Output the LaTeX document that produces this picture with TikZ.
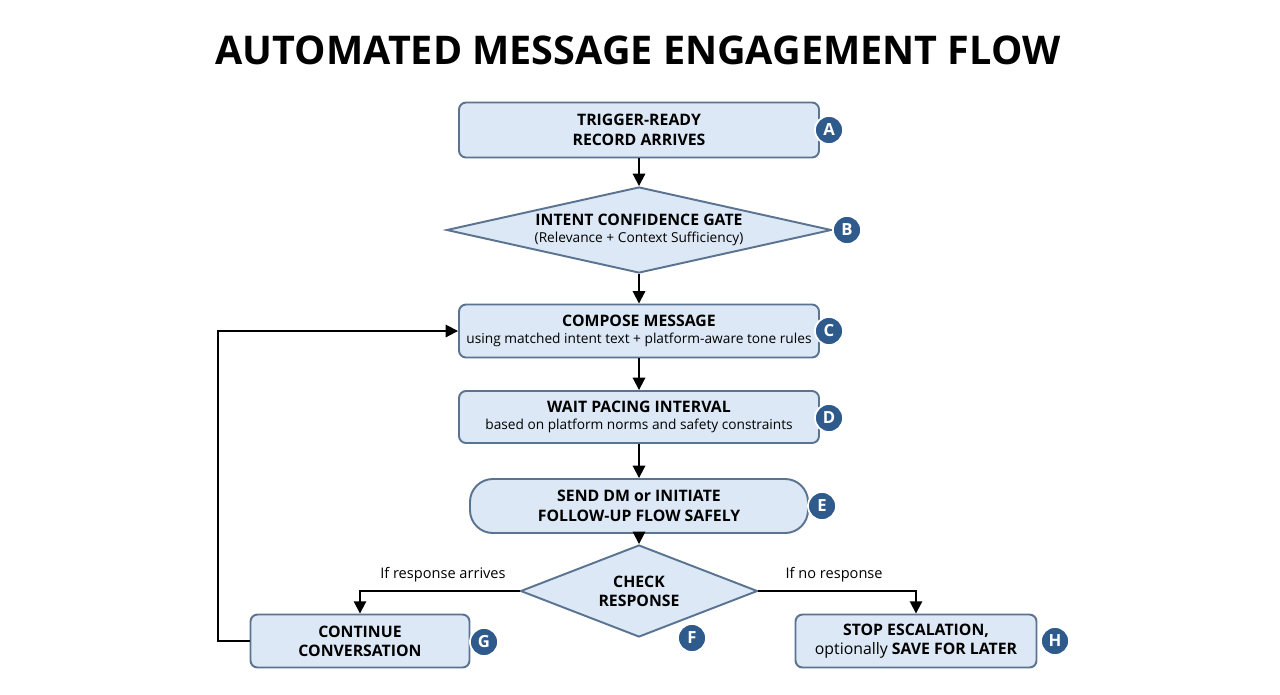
\documentclass[tikz,border=0pt]{standalone}
\usepackage{fontspec}
\setmainfont{Open Sans}
\usetikzlibrary{arrows.meta,shapes.geometric,positioning}
\definecolor{boxfill}{HTML}{DCE8F5}
\definecolor{boxline}{HTML}{5A7391}
\definecolor{badge}{HTML}{2F5A8C}
\newcommand\subtxt{\fontsize{7.8}{9.5}\selectfont}

\begin{document}
\begin{tikzpicture}[x=0.02cm,y=-0.02cm,>={Triangle[length=7pt,width=7pt]},
    line width=1.1pt,
    box/.style={draw=boxline,fill=boxfill,rounded corners=4pt,align=center,
      inner sep=0pt,font=\fontsize{9}{11}\selectfont},
    gate/.style={draw=boxline,fill=boxfill,diamond,aspect=4.4,align=center,
      inner sep=0pt,font=\fontsize{9}{11}\selectfont},
    tag/.style={circle,fill=badge,draw=white,line width=1pt,minimum size=16pt,
      inner sep=0pt,text=white,font=\fontsize{9.5}{9.5}\selectfont\bfseries},
    lbl/.style={font=\fontsize{8.3}{10}\selectfont}]
  \useasboundingbox (0,0) rectangle (1280,694);

  \node[font=\fontsize{22.5}{26}\selectfont\bfseries] (title) at (638,50) {AUTOMATED MESSAGE ENGAGEMENT FLOW};

  \node[box,minimum width=360*0.02cm,minimum height=55*0.02cm] (A) at (639,130)
    {\textbf{TRIGGER-READY}\\\textbf{RECORD ARRIVES}};
  \node[gate,minimum width=385*0.02cm,minimum height=86*0.02cm] (B) at (639,230)
    {\textbf{INTENT CONFIDENCE GATE}\\[-1pt]{\subtxt (Relevance + Context Sufficiency)}};
  \node[box,minimum width=360*0.02cm,minimum height=53*0.02cm] (C) at (639,331)
    {\textbf{COMPOSE MESSAGE}\\[-1pt]{\subtxt using matched intent text + platform-aware tone rules}};
  \node[box,minimum width=360*0.02cm,minimum height=52*0.02cm] (D) at (639,417)
    {\textbf{WAIT PACING INTERVAL}\\[-1pt]{\subtxt based on platform norms and safety constraints}};
  \node[box,rounded corners=13pt,minimum width=338*0.02cm,minimum height=54*0.02cm] (E) at (639,506)
    {\textbf{SEND DM or INITIATE}\\\textbf{FOLLOW-UP FLOW SAFELY}};
  \node[gate,aspect=2.6,minimum width=237*0.02cm,minimum height=92*0.02cm] (F) at (639,591)
    {\textbf{CHECK}\\\textbf{RESPONSE}};
  \node[box,minimum width=219*0.02cm,minimum height=53*0.02cm] (G) at (360,641)
    {\textbf{CONTINUE}\\\textbf{CONVERSATION}};
  \node[box,minimum width=241*0.02cm,minimum height=53*0.02cm] (H) at (916,641)
    {\textbf{STOP ESCALATION,}\\optionally \textbf{SAVE FOR LATER}};

  % letter badges
  \node[tag] (tA) at (829,130) {A};
  \node[tag] (tB) at (847,230) {B};
  \node[tag] (tC) at (829,331) {C};
  \node[tag] (tD) at (829,418) {D};
  \node[tag] (tE) at (822,506) {E};
  \node[tag] (tF) at (692,638) {F};
  \node[tag] (tG) at (484,642) {G};
  \node[tag] (tH) at (1055,641) {H};

  % main flow
  \draw[->] (A) -- (B);
  \draw[->] (B) -- (C);
  \draw[->] (C) -- (D);
  \draw[->] (D) -- (E);
  \draw[->] (E) -- (F);
  \draw[->] (F.west) -| node[lbl,pos=0.24,above=1pt] {If response arrives} (G.north);
  \draw[->] (F.east) -| node[lbl,pos=0.24,above=1pt] {If no response} (H.north);
  \draw[->] (G.west) -- ++(-32,0) |- (C.west);
\end{tikzpicture}
\end{document}
